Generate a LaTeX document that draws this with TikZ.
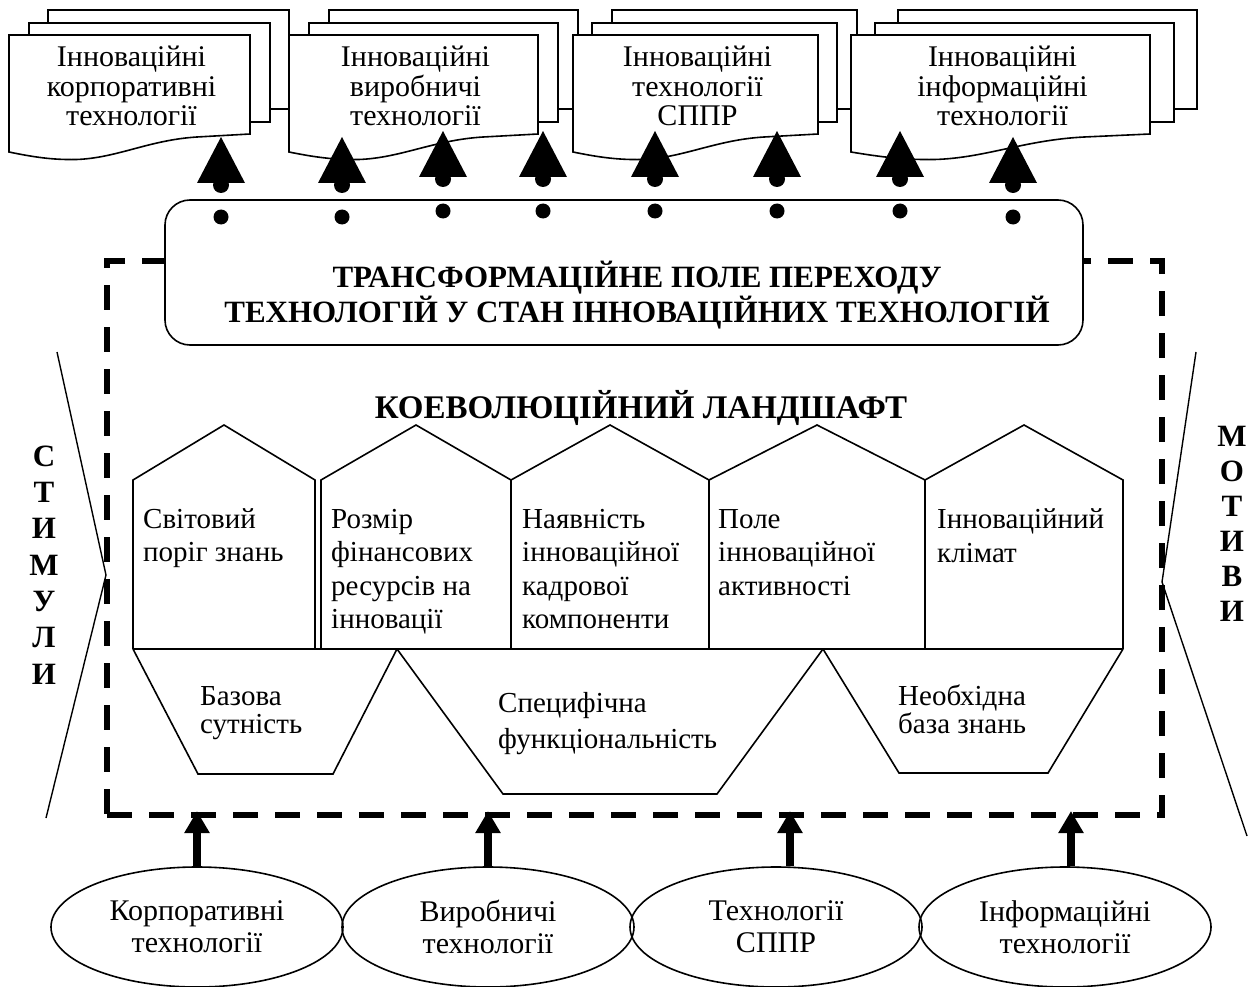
\documentclass[tikz,border=0pt]{standalone}
\usepackage{fontspec}
\setmainfont{Liberation Serif}
\usetikzlibrary{arrows.meta,shapes.geometric,calc}

\tikzset{
  thinline/.style={line width=1.6pt},
  doctext/.style={font=\fontsize{30}{29.5}\selectfont, align=center, anchor=base, inner sep=0pt},
  housetext/.style={font=\fontsize{29}{33.5}\selectfont, align=left, anchor=base west, inner sep=0pt},
  bigtitle/.style={font=\bfseries\fontsize{31}{32}\selectfont, align=center, anchor=base, inner sep=0pt},
  ovalnode/.style={ellipse, draw, line width=1.6pt, minimum width=292pt, minimum height=120pt, inner sep=0pt, font=\fontsize{30}{32}\selectfont, align=center},
  uparrow/.style={line width=8pt, shorten >=-4pt, -{Triangle[width=24pt,length=22pt]}},
}

\newcommand\docstack[6]{%
  \pgfmathsetmacro\docw{#3-#2}
  \filldraw[fill=white, thinline] (#2+#5,10) rectangle (#3+#5,109);
  \filldraw[fill=white, thinline] (#2+#4,23) rectangle (#3+#4,122);
  \filldraw[fill=white, thinline] (#2,35) -- (#3,35) -- (#3,134) -- ({#2+0.78*\docw},137)
     .. controls ({#2+0.58*\docw},140) and ({#2+0.45*\docw},158) .. ({#2+0.28*\docw},159.5)
     .. controls ({#2+0.18*\docw},160) and ({#2+0.1*\docw},157) .. (#2,152) -- cycle;
  \node[doctext] (#1) at ({(#2+#3)/2+2},126) {#6};
}

\begin{document}
\begin{tikzpicture}[x=1pt,y=-1pt]
\useasboundingbox (0,0) rectangle (1255,987);

% dashed frame
\node[draw, line width=6.5pt, dash pattern=on 25pt off 17pt, minimum width=1055pt, minimum height=554pt, inner sep=0pt, outer sep=0pt] (frame) at (634.5,538) {};

% side lines
\draw[line width=1.4pt] (57,352) -- (106,575) -- (46,818);
\draw[line width=1.4pt] (1196,352) -- (1162,582) -- (1247,836);

\node[font=\bfseries\fontsize{31}{36.3}\selectfont, align=center, anchor=base, inner sep=0pt] (stim) at (44,684) {С\\Т\\И\\М\\У\\Л\\И};
\node[font=\bfseries\fontsize{31}{35}\selectfont, align=center, anchor=base, inner sep=0pt] (mot) at (1232,621) {М\\О\\Т\\И\\В\\И};

% transformation box
\node[draw, thinline, fill=white, rounded corners=25pt, minimum width=918pt, minimum height=145pt, inner sep=0pt] (tf) at (624,272.5) {};
\node[bigtitle] (tftext) at (637,322) {ТРАНСФОРМАЦІЙНЕ ПОЛЕ ПЕРЕХОДУ\\ТЕХНОЛОГІЙ У СТАН ІННОВАЦІЙНИХ ТЕХНОЛОГІЙ};

% documents
\docstack{d1}{9}{250}{20}{39}{Інноваційні\\корпоративні\\технології}
\docstack{d2}{289}{538}{20}{40}{Інноваційні\\виробничі\\технології}
\docstack{d3}{573}{818}{19}{39}{Інноваційні\\технології\\СППР}
\docstack{d4}{851}{1150}{24}{47}{Інноваційні\\інформаційні\\технології}

% arrows from the transformation field to documents
\foreach \x/\t [count=\i] in {221/137, 342/137, 443/131, 543/131, 655/131, 777/131, 900/131, 1013/137} {
  \coordinate (src\i) at (\x,\t+80);
  \coordinate (tip\i) at (\x,\t);
  \fill (src\i) circle (7.5);
  \fill ($(tip\i)+(0,48)$) circle (8);
  \fill (tip\i) -- ++(-24,46) -- ++(48,0) -- cycle;
}

% title
\node[bigtitle, font=\bfseries\fontsize{33}{34}\selectfont] (title) at (641,418) {КОЕВОЛЮЦІЙНИЙ ЛАНДШАФТ};

% houses
\foreach \l/\r/\p in {133/315/224, 321/511/416, 511/709/610, 709/925/817, 925/1123/1024}
  \draw[thinline] (\l,649) -- (\l,480) -- (\p,425) -- (\r,480) -- (\r,649);
\draw[thinline] (133,649) -- (1123,649);

\node[housetext] (h1) at (143,561.5) {Світовий\\поріг знань};
\node[housetext] (h2) at (331,628.5) {Розмір\\фінансових\\ресурсів на\\інновації};
\node[housetext] (h3) at (522,628.5) {Наявність\\інноваційної\\кадрової\\компоненти};
\node[housetext] (h4) at (718,595) {Поле\\інноваційної\\активності};
\node[housetext] (h5) at (937,562) {Інноваційний\\клімат};

% trapezoids
\draw[thinline] (133,649) -- (198,774) -- (333,774) -- (397,649);
\draw[thinline] (397,649) -- (503,794) -- (717,794) -- (823,649);
\draw[thinline] (823,649) -- (899,773) -- (1048,773) -- (1123,649);

\node[housetext, font=\fontsize{29}{28.5}\selectfont] (t1) at (200,733.5) {Базова\\сутність};
\node[housetext, font=\fontsize{29}{36}\selectfont] (t2) at (498,748) {Специфічна\\функціональність};
\node[housetext, font=\fontsize{29}{28.5}\selectfont] (t3) at (898,733.5) {Необхідна\\база знань};

% ellipses
\node[ovalnode] (e1) at (197,927) {Корпоративні\\технології};
\node[ovalnode] (e2) at (488,927) {Виробничі\\технології};
\node[ovalnode] (e3) at (776,927) {Технології\\СППР};
\node[ovalnode] (e4) at (1065,927) {Інформаційні\\технології};

\draw[uparrow] (e1.north) -- (e1.north |- frame.south);
\draw[uparrow] (e2.north) -- (e2.north |- frame.south);
\draw[uparrow] ([xshift=14pt]e3.north) -- ([xshift=14pt]e3.north |- frame.south);
\draw[uparrow] ([xshift=6pt]e4.north) -- ([xshift=6pt]e4.north |- frame.south);
\end{tikzpicture}
\end{document}
